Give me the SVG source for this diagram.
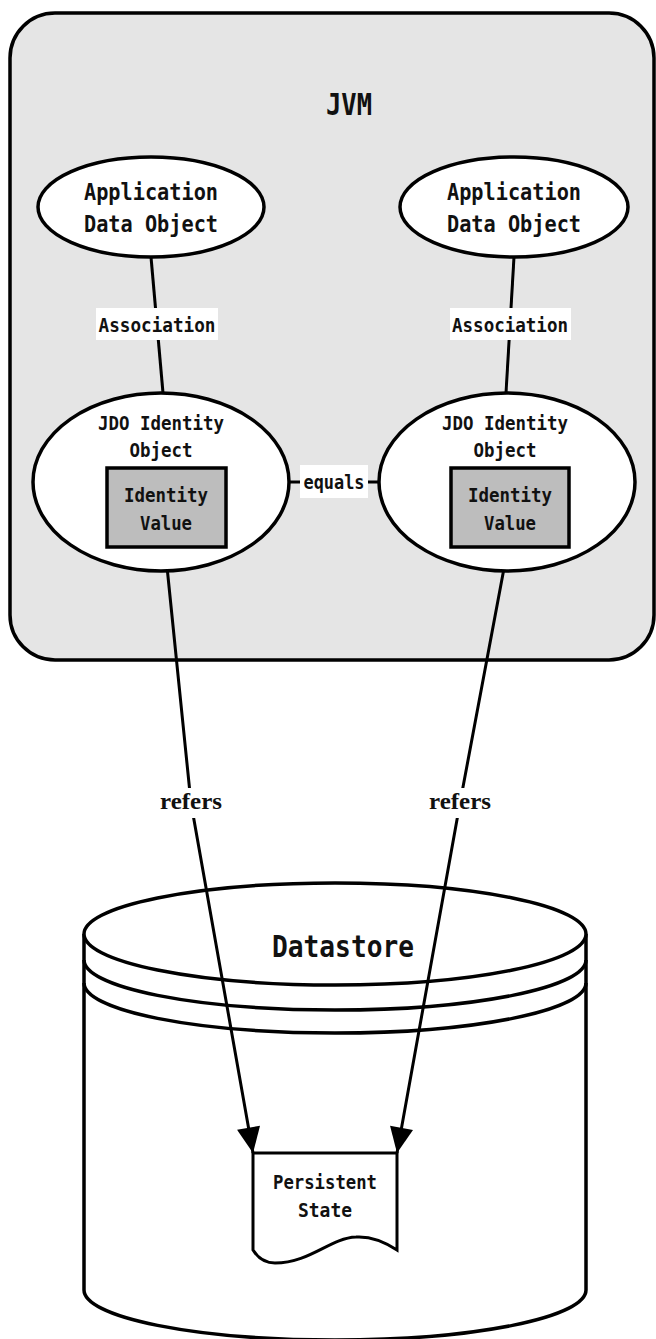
<svg xmlns="http://www.w3.org/2000/svg" width="656" height="1339" viewBox="0 0 656 1339">
<style>
.lbl{font-family:"DejaVu Sans Mono","Liberation Mono",monospace;font-weight:bold;fill:#111;text-anchor:middle}
.ser{font-family:"Liberation Serif","DejaVu Serif",serif;font-weight:bold;fill:#111;text-anchor:middle}
.sh{stroke:#000;stroke-width:3.5}
.ln{stroke:#000;stroke-width:3;fill:none}
</style>
<defs>
<marker id="arr" markerUnits="userSpaceOnUse" markerWidth="30" markerHeight="30" viewBox="-25 -12 27 24" refX="0" refY="0" orient="auto">
<path d="M0,0 L-23,-10.5 L-23,10.5 Z" fill="#000"/>
</marker>
</defs>
<rect width="656" height="1339" fill="#fff"/>

<g id="jvm">
<rect x="10" y="13" width="644" height="647" rx="45" ry="45" fill="#e5e5e5" class="sh"/>
<text class="lbl" x="349" y="115" font-size="30" textLength="46" lengthAdjust="spacingAndGlyphs">JVM</text>
</g>

<g id="datastore">
<path d="M84,934 V1290 A251,50 0 0 0 586,1290 V934" fill="#fff" class="sh"/>
<ellipse cx="335" cy="934" rx="251" ry="51" fill="#fff" class="sh"/>
<path d="M84,960 A251,50 0 0 0 586,960" fill="none" class="sh"/>
<path d="M84,983 A251,50 0 0 0 586,983" fill="none" class="sh"/>
<text class="lbl" x="343" y="957" font-size="30" textLength="142" lengthAdjust="spacingAndGlyphs">Datastore</text>
</g>

<g id="connectors">
<line x1="151" y1="257" x2="163" y2="393" class="ln"/>
<line x1="514" y1="257" x2="506" y2="393" class="ln"/>
<line x1="287" y1="482" x2="380" y2="482" class="ln"/>
<polyline points="165,547 191,803 253,1153" class="ln" marker-end="url(#arr)"/>
<polyline points="508,547 460,803 397,1153" class="ln" marker-end="url(#arr)"/>
<rect x="96" y="308" width="122" height="32" fill="#fff"/>
<text class="lbl" x="157" y="332" font-size="20" textLength="117" lengthAdjust="spacingAndGlyphs">Association</text>
<rect x="450" y="308" width="121" height="32" fill="#fff"/>
<text class="lbl" x="510" y="332" font-size="20" textLength="116" lengthAdjust="spacingAndGlyphs">Association</text>
<rect x="300" y="465" width="68" height="33" fill="#fff"/>
<text class="lbl" x="334" y="489" font-size="20" textLength="61" lengthAdjust="spacingAndGlyphs">equals</text>
<rect x="158" y="788" width="66" height="30" fill="#fff"/>
<text class="ser" x="191" y="809" font-size="23" textLength="62" lengthAdjust="spacingAndGlyphs">refers</text>
<rect x="427" y="788" width="66" height="30" fill="#fff"/>
<text class="ser" x="460" y="809" font-size="23" textLength="62" lengthAdjust="spacingAndGlyphs">refers</text>
</g>

<g id="app-left">
<ellipse cx="151" cy="207" rx="113" ry="50" fill="#fff" class="sh"/>
<text class="lbl" x="151" y="200" font-size="23" textLength="134" lengthAdjust="spacingAndGlyphs">Application</text>
<text class="lbl" x="151" y="232" font-size="23" textLength="134" lengthAdjust="spacingAndGlyphs">Data Object</text>
</g>
<g id="app-right">
<ellipse cx="514" cy="207" rx="114" ry="50" fill="#fff" class="sh"/>
<text class="lbl" x="514" y="200" font-size="23" textLength="134" lengthAdjust="spacingAndGlyphs">Application</text>
<text class="lbl" x="514" y="232" font-size="23" textLength="134" lengthAdjust="spacingAndGlyphs">Data Object</text>
</g>

<g id="jdo-left">
<ellipse cx="161" cy="482" rx="128" ry="89" fill="#fff" class="sh"/>
<text class="lbl" x="161" y="430" font-size="20" textLength="126" lengthAdjust="spacingAndGlyphs">JDO Identity</text>
<text class="lbl" x="161" y="457" font-size="20" textLength="63" lengthAdjust="spacingAndGlyphs">Object</text>
</g>
<g id="idv-left">
<rect x="107" y="468" width="119" height="79" fill="#bdbdbd" class="sh"/>
<text class="lbl" x="166" y="502" font-size="20" textLength="84" lengthAdjust="spacingAndGlyphs">Identity</text>
<text class="lbl" x="166" y="530" font-size="20" textLength="52" lengthAdjust="spacingAndGlyphs">Value</text>
</g>

<g id="jdo-right">
<ellipse cx="507" cy="482" rx="128" ry="89" fill="#fff" class="sh"/>
<text class="lbl" x="505" y="430" font-size="20" textLength="126" lengthAdjust="spacingAndGlyphs">JDO Identity</text>
<text class="lbl" x="505" y="457" font-size="20" textLength="63" lengthAdjust="spacingAndGlyphs">Object</text>
</g>
<g id="idv-right">
<rect x="451" y="468" width="118" height="79" fill="#bdbdbd" class="sh"/>
<text class="lbl" x="510" y="502" font-size="20" textLength="84" lengthAdjust="spacingAndGlyphs">Identity</text>
<text class="lbl" x="510" y="530" font-size="20" textLength="52" lengthAdjust="spacingAndGlyphs">Value</text>
</g>

<g id="persistent">
<path d="M253,1153 H397 V1250 C385,1242 372,1236 356,1237 C330,1238 310,1263 275,1263 C265,1263 258,1258 253,1250 Z" fill="#fff" stroke="#000" stroke-width="3"/>
<text class="lbl" x="325" y="1189" font-size="20" textLength="104" lengthAdjust="spacingAndGlyphs">Persistent</text>
<text class="lbl" x="325" y="1217" font-size="20" textLength="54" lengthAdjust="spacingAndGlyphs">State</text>
</g>
</svg>
